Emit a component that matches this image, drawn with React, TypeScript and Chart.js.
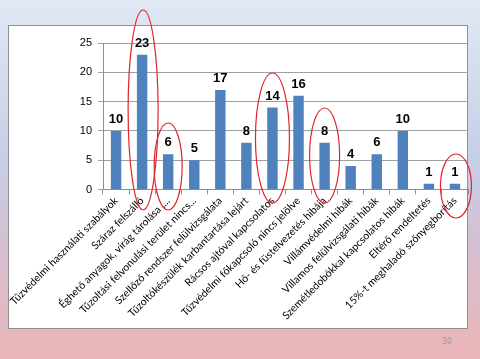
import React, { useEffect, useRef } from "react";
import { Chart, registerables } from "chart.js";

Chart.register(...registerables);

const categories: string[] = [
  "Tűzvédelmi használati szabályok",
  "Száraz felszálló",
  "Éghető anyagok, virág tárolása ,...",
  "Tűzoltási felvonulási terület nincs...",
  "Szellőző rendszer felülvizsgálata",
  "Tűzoltókészülék karbantartása lejárt",
  "Rácsos ajtóval kapcsolatos",
  "Tűzvédelmi főkapcsoló nincs jelölve",
  "Hő- és füstelvezetés hibája",
  "Villámvédelmi hibák",
  "Villamos felülvizsgálati hibák",
  "Szemétledobókkal kapcsolatos hibák",
  "Eltérő rendeltetés",
  "15%-t meghaladó szőnyegborítás",
];

const values: number[] = [10, 23, 6, 5, 17, 8, 14, 16, 8, 4, 6, 10, 1, 1];

const yTicks: number[] = [0, 5, 10, 15, 20, 25];

const highlighted: number[] = [1, 2, 6, 8, 13];

const pageNumber = "30";

// ellipse styling (pixel geometry of the hand-drawn red rings)
const ringStyle: Record<number, { top: number; bottom: number; rx: number; dx: number }> = {
  1: { top: 10, bottom: 210, rx: 15, dx: 1 },
  2: { top: 123, bottom: 210, rx: 14, dx: 0 },
  6: { top: 73, bottom: 203, rx: 17, dx: 0 },
  8: { top: 108, bottom: 203, rx: 15, dx: 0 },
  13: { top: 154, bottom: 218, rx: 15.5, dx: 1 },
};

const bgPlugin = {
  id: "bgPlugin",
  beforeDraw(chart: any) {
    const { ctx, width, height } = chart;
    ctx.save();
    const g = ctx.createLinearGradient(0, 0, 0, height);
    g.addColorStop(0, "#e1e8f4");
    g.addColorStop(0.45, "#c6cee6");
    g.addColorStop(0.7, "#d6bfd0");
    g.addColorStop(1, "#ebb5b7");
    ctx.fillStyle = g;
    ctx.fillRect(0, 0, width, height);
    ctx.fillStyle = "#ffffff";
    ctx.fillRect(8, 25, 460, 304);
    ctx.strokeStyle = "#8f8f8f";
    ctx.lineWidth = 1;
    ctx.strokeRect(8.5, 25.5, 459, 303);
    ctx.restore();
  },
  afterDraw(chart: any) {
    const { ctx } = chart;
    ctx.save();
    const xs = chart.scales.x;
    ctx.strokeStyle = "#e0242a";
    ctx.lineWidth = 1.2;
    highlighted.forEach((i) => {
      const s = ringStyle[i];
      if (!s) return;
      const cx = xs.getPixelForValue(i) + s.dx;
      const cy = (s.top + s.bottom) / 2;
      const ry = (s.bottom - s.top) / 2;
      ctx.beginPath();
      ctx.ellipse(cx, cy, s.rx, ry, 0, 0, Math.PI * 2);
      ctx.stroke();
    });
    ctx.fillStyle = "#9a9a9a";
    ctx.font = "8px 'DejaVu Sans', sans-serif";
    ctx.textAlign = "center";
    ctx.textBaseline = "middle";
    ctx.fillText(pageNumber, 447, 342);
    ctx.restore();
  },
};

const valueLabelPlugin = {
  id: "valueLabelPlugin",
  afterDatasetsDraw(chart: any) {
    const { ctx } = chart;
    const meta = chart.getDatasetMeta(0);
    ctx.save();
    ctx.fillStyle = "#000000";
    ctx.font = "bold 13px 'Liberation Sans', Arial, sans-serif";
    ctx.textAlign = "center";
    ctx.textBaseline = "bottom";
    meta.data.forEach((bar: any, i: number) => {
      ctx.fillText(String(values[i]), bar.x, bar.y - 5);
    });
    ctx.restore();
  },
};

export default function App() {
  const ref = useRef<HTMLCanvasElement | null>(null);

  useEffect(() => {
    if (!ref.current) return;
    const chart = new Chart(ref.current, {
      type: "bar",
      data: {
        labels: categories,
        datasets: [
          {
            data: values,
            backgroundColor: "#4f81bd",
            barPercentage: 0.4,
            categoryPercentage: 1,
          },
        ],
      },
      options: {
        responsive: false,
        animation: false,
        layout: { padding: { left: 14, right: 12, top: 43, bottom: 37 } },
        plugins: { legend: { display: false }, tooltip: { enabled: false } },
        scales: {
          x: {
            grid: {
              display: true,
              drawOnChartArea: false,
              offset: true,
              color: "#8f8f8f",
              tickLength: 5,
            },
            border: { color: "#8f8f8f" },
            ticks: {
              autoSkip: false,
              minRotation: 45,
              maxRotation: 45,
              color: "#000000",
              padding: 0,
              font: { family: "Lato, 'Liberation Sans', sans-serif", size: 10.5 },
            },
          },
          y: {
            min: 0,
            max: 25,
            afterBuildTicks(scale: any) {
              scale.ticks = yTicks.map((v) => ({ value: v }));
            },
            afterFit(scale: any) {
              scale.width = 89;
            },
            grid: { color: "#a0a0a0", tickLength: 5 },
            border: { color: "#8f8f8f" },
            ticks: {
              color: "#000000",
              padding: 6,
              font: { family: "'Liberation Sans', Arial, sans-serif", size: 11 },
            },
          },
        },
      },
      plugins: [bgPlugin, valueLabelPlugin],
    });
    return () => chart.destroy();
  }, []);

  return (
    <div style={{ position: "absolute", left: 0, top: 0, width: 480, height: 359 }}>
      <canvas ref={ref} width={480} height={359} style={{ display: "block" }} />
    </div>
  );
}
